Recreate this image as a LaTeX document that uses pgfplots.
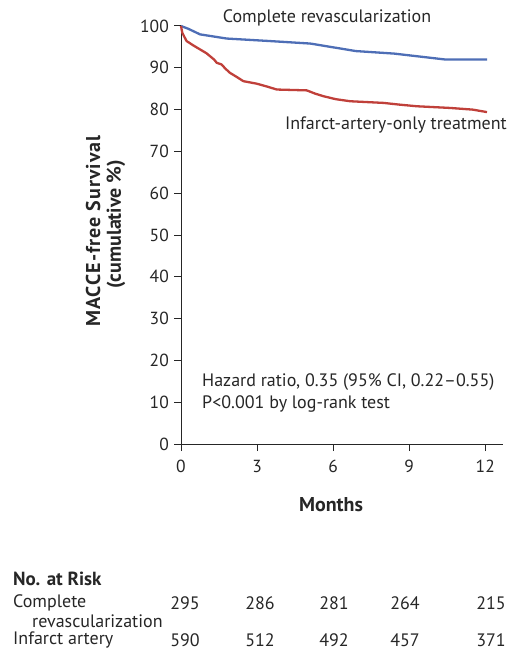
\documentclass[border=0pt]{standalone}
\usepackage{pgfplots}
\pgfplotsset{compat=1.18}
\usepackage{fontspec}
\setmainfont{PT Sans}
\definecolor{cblue}{RGB}{78,110,182}
\definecolor{cred}{RGB}{192,64,58}
\pgfplotstableread{
m s
0 100
0.3 99.3
0.75 98
1.8 97
3.5 96.4
5.1 95.8
6.9 94.0
8.4 93.4
10.4 92.0
12.07 92.0
}\blue
\pgfplotstableread{
m s
0 100
0.05 98.4
0.15 97.2
0.22 96.4
0.5 95.3
0.75 94.4
1.0 93.5
1.14 92.8
1.3 92.0
1.41 91.2
1.6 90.8
1.75 89.8
1.93 88.8
2.2 87.8
2.46 86.8
2.99 86.2
3.4 85.5
3.78 84.8
4.96 84.6
5.3 83.8
5.62 83.2
6.1 82.5
6.67 82.0
7.99 81.6
8.6 81.2
9.3 80.8
10.6 80.4
11.5 80.0
12.07 79.4
}\red
\begin{document}
\fontsize{18}{21}\selectfont
\begin{tikzpicture}
\useasboundingbox (0pt,0pt) rectangle (509pt,-655pt);
\begin{axis}[
  at={(181pt,-444pt)}, anchor=south west,
  scale only axis, width=322pt, height=418pt,
  xmin=0, xmax=12.7, ymin=0, ymax=100,
  axis x line=bottom, axis y line=left,
  axis line style={-, line width=1pt, black!85},
  xtick={0,3,6,9,12}, ytick={0,10,...,100},
  tick style={black!85, line width=1pt},
  major tick length=7pt,
  xtick align=outside, ytick align=outside,
  /pgf/number format/assume math mode=true,
  ticklabel style={font=\fontsize{17.5}{20}\selectfont, text=black!85},
  yticklabel style={xshift=1pt},
  xticklabel style={yshift=-3pt},
  clip=false,
]
\addplot[cblue, line width=2.3pt, line join=round] table[x=m,y=s]{\blue};
\addplot[cred, line width=2.3pt, line join=round] table[x=m,y=s]{\red};
\end{axis}
\begin{scope}[every node/.style={inner sep=0pt, text=black!85}]
\node at (327pt,-18pt) {Complete revascularization};
\node[anchor=east] at (507pt,-125pt) {Infarct-artery-only treatment};
\node[anchor=west] at (202pt,-382pt) {Hazard ratio, 0.35 (95\% CI, 0.22–0.55)};
\node[anchor=west] at (202pt,-404pt) {P<0.001 by log-rank test};
\node[rotate=90, font=\fontsize{20}{23}\bfseries\addfontfeatures{LetterSpace=5}] at (93pt,-231pt) {MACCE-free Survival};
\node[rotate=90, font=\fontsize{20}{23}\bfseries] at (116pt,-224pt) {(cumulative \%)};
\node[font=\fontsize{20}{23}\bfseries] at (331pt,-505pt) {Months};
\node[font=\fontsize{19}{22}\bfseries, anchor=west] at (13pt,-579pt) {No. at Risk};
\node[anchor=west] at (13pt,-603pt) {Complete};
\node[anchor=west] at (32pt,-621pt) {revascularization};
\node[anchor=west] at (13pt,-640pt) {Infarct artery};
\foreach \x/\a/\b in {185/295/590, 260/286/512, 334/281/492, 405/264/457, 491/215/371} {
  \node at (\x pt,-603pt) {\a};
  \node at (\x pt,-640pt) {\b};
}
\end{scope}
\end{tikzpicture}
\end{document}
